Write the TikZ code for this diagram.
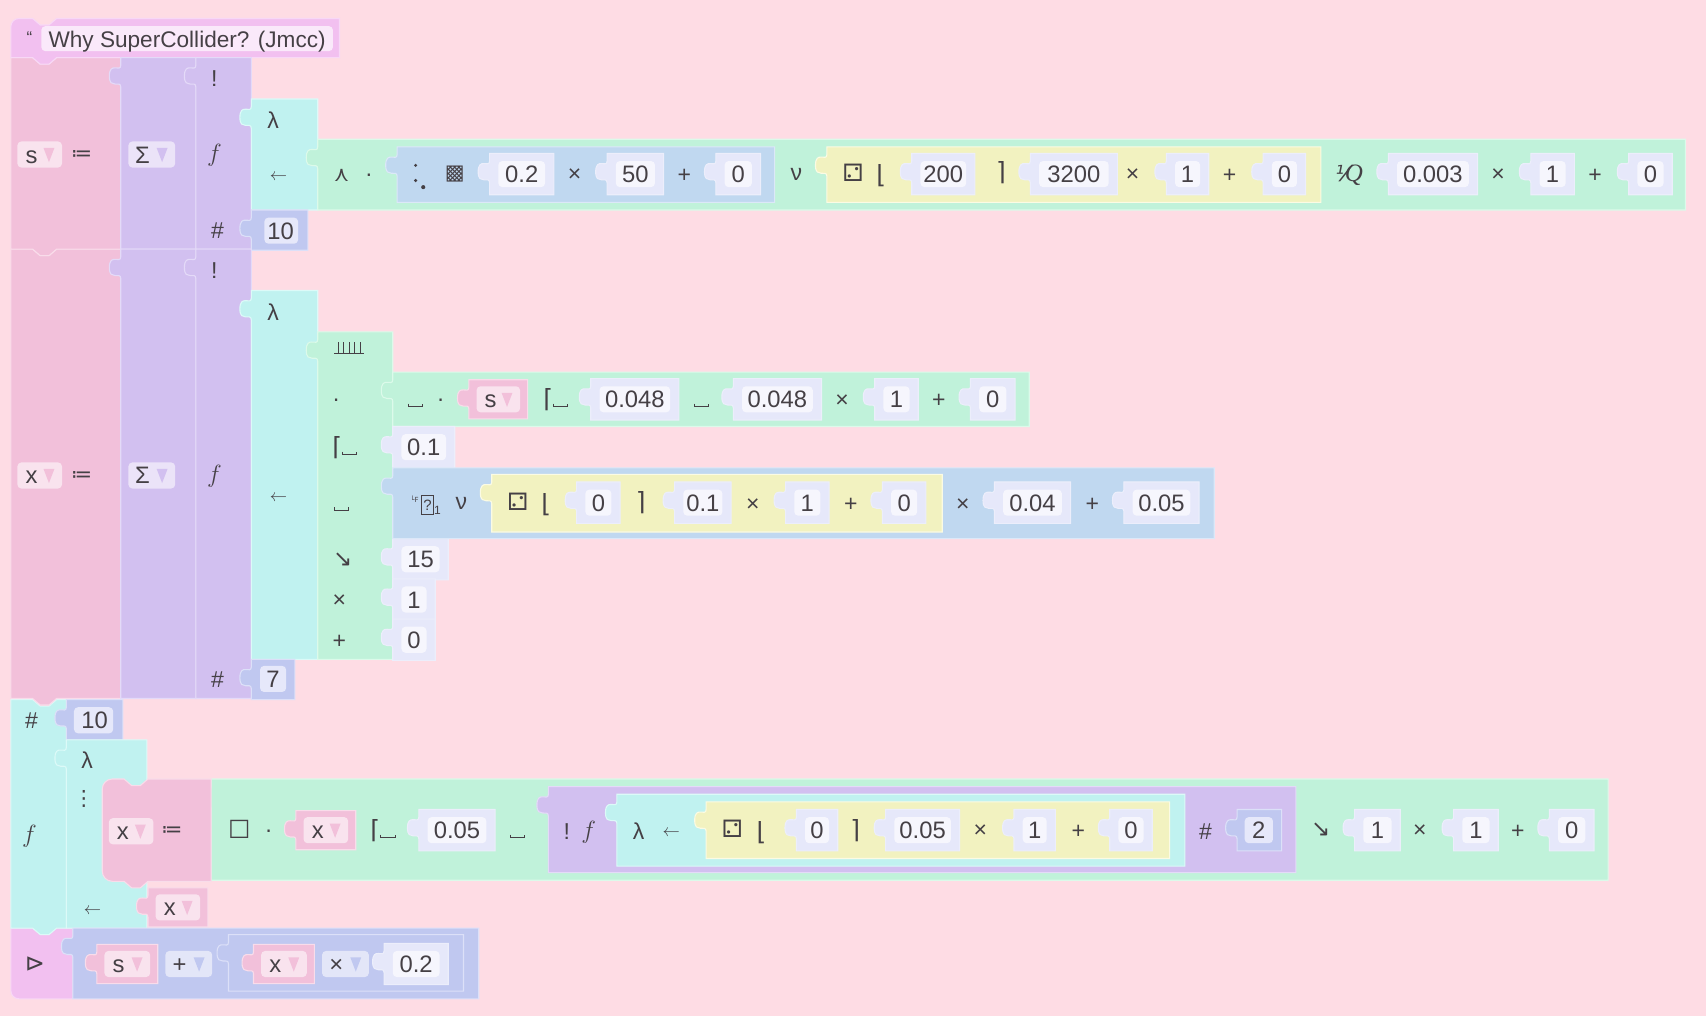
\documentclass[tikz,border=0pt]{standalone}
\usepackage{fontspec}
\setmainfont{Liberation Sans}
\newfontfamily\symfont{DejaVu Sans}
\newfontfamily\serifsym{Liberation Serif}
\usetikzlibrary{positioning}

\definecolor{bgpink}{HTML}{FEDCE4}
\definecolor{inkgray}{HTML}{454045}
\definecolor{hatfill}{HTML}{F2C0F0}
\definecolor{hatline}{HTML}{F8D8F6}
\definecolor{pinkfill}{HTML}{F2C0DA}
\definecolor{pinkline}{HTML}{F9DCEA}
\definecolor{purpfill}{HTML}{D2C0F0}
\definecolor{purpline}{HTML}{E4DAF8}
\definecolor{cyanfill}{HTML}{C0F2F0}
\definecolor{cyanline}{HTML}{DCFAF8}
\definecolor{greenfill}{HTML}{C0F2DA}
\definecolor{greenline}{HTML}{DCFAEA}
\definecolor{bluefill}{HTML}{C0D8F0}
\definecolor{blueline}{HTML}{DCE8F8}
\definecolor{yellfill}{HTML}{F2F2C0}
\definecolor{yellline}{HTML}{FBFBE4}
\definecolor{perifill}{HTML}{C0C8F0}
\definecolor{periline}{HTML}{DCE0F8}
\definecolor{valfill}{HTML}{E6E8FA}
\definecolor{valline}{HTML}{ECEEFB}
\definecolor{fieldfill}{HTML}{F6F6FD}

\tikzset{
  hatblock/.style={fill=hatfill,draw=hatline,line width=1.1pt},
  pinkblock/.style={fill=pinkfill,draw=pinkline,line width=1.1pt},
  purpblock/.style={fill=purpfill,draw=purpline,line width=1.1pt},
  cyanblock/.style={fill=cyanfill,draw=cyanline,line width=1.1pt},
  greenblock/.style={fill=greenfill,draw=greenline,line width=1.1pt},
  blueblock/.style={fill=bluefill,draw=blueline,line width=1.1pt},
  yellblock/.style={fill=yellfill,draw=yellline,line width=1.1pt},
  periblock/.style={fill=perifill,draw=periline,line width=1.1pt},
  valblockstyle/.style={fill=valfill,draw=valline,line width=1.1pt},
  titletext/.style={font=\fontsize{22.6}{24}\selectfont,text=inkgray,inner sep=0pt,text height=16pt,text depth=0pt},
  valtext/.style={font=\fontsize{23.8}{25}\selectfont,text=inkgray,inner sep=0pt,text height=17pt,text depth=0pt},
  symtext/.style={font=\fontsize{23}{24}\selectfont,text=inkgray,inner sep=0pt},
  optext/.style={symtext,yshift=-1.3pt},
  dottext/.style={symtext,yshift=-3.8pt},
  arrowtext/.style={font=\fontsize{17}{24}\selectfont,text=inkgray,inner sep=0pt},
  funtext/.style={font=\fontsize{27}{28}\selectfont,text=inkgray,inner sep=0pt},
  djtext/.style={font=\fontsize{21}{24}\selectfont\symfont,text=inkgray,inner sep=0pt},
  tallsym/.style={font=\fontsize{25}{26}\selectfont\symfont,text=inkgray,inner sep=0pt}
}

% block with a puzzle tab on its left edge
\newcommand{\tabblock}[5][]{%
  \draw[#1] (#2,#3) -- (#2,#3+7)
    .. controls (#2,#3+14) and (#2-10.5,#3+3) .. (#2-10.5,#3+17)
    .. controls (#2-10.5,#3+30) and (#2,#3+20) .. (#2,#3+27)
    -- (#2,#5) -- (#4,#5) -- (#4,#3) -- cycle;}
% stacked block with a notch on top and a bump below
\newcommand{\stmtblock}[7][]{%
  \draw[#1] (#2,#3+20) [rounded corners=#6] -- (#2,#3) [sharp corners] -- (#2+20,#3)
    -- (#2+27,#3+6) -- (#2+35,#3+6) -- (#2+42,#3) -- (#4,#3) -- (#4,#5)
    -- (#2+42,#5) -- (#2+35,#5+6) -- (#2+27,#5+6) -- (#2+20,#5)
    [rounded corners=#7] -- (#2,#5) [sharp corners] -- cycle;}
% number block
\newcommand{\valblock}[4]{%
  \tabblock[valblockstyle]{#1}{#3-19}{#2}{#3+19}
  \fill[fieldfill,rounded corners=4] (#1+8,#3-12) rectangle (#2-8,#3+12);
  \node[valtext] (val#1x#3) at ({(#1+#2)/2},#3) {#4};}
% dropdown field
\newcommand{\dropfield}[6]{%
  \fill[#5,rounded corners=4] (#1,#3-12) rectangle (#2,#3+12);
  \node[valtext] (drop#1x#3) at (#1+13,#3) {#4};
  \fill[#6] (#2-17,#3-6) -- (#2-7,#3-6) -- (#2-12,#3+7) -- cycle;}
% variable block
\newcommand{\varblock}[4]{%
  \tabblock[pinkblock]{#1}{#3-18}{#2}{#3+18}
  \dropfield{#1+7}{#2-7}{#3}{#4}{pinkfill!45!white}{pinkfill}}
% open box under a letter
\newcommand{\blank}[2]{%
  \draw[inkgray,line width=0.9pt] (#1-6,#2-3) -- (#1-6,#2) -- (#1+7,#2) -- (#1+7,#2-3);}
\newcommand{\lceilblank}[2]{%
  \node[tallsym] (ceil#1x#2) at (#1-7,#2) {⌈};
  \blank{#1+4}{#2+7}}

\begin{document}
\begin{tikzpicture}[x=1.08801pt,y=-1.08801pt]
  \useasboundingbox[fill=bgpink] (0,0) rectangle (1568,934);

  % stacked column, bottom first
  \draw[hatblock] (10,875) -- (10,853) -- (30,853) -- (37,859) -- (45,859) -- (52,853) -- (67,853)
    -- (67,918) [rounded corners=8] -- (10,918) [sharp corners] -- cycle;
  \stmtblock[cyanblock]{10}{643}{61}{853}{0}{0}
  \stmtblock[pinkblock]{10}{229}{111}{642}{0}{0}
  \stmtblock[pinkblock]{10}{53}{111}{229}{0}{0}
  \stmtblock[hatblock]{10}{17}{312}{53}{8}{0}
  \fill[hatfill!35!white,rounded corners=4] (38,24) rectangle (306,47);
  \node[titletext] (title) at (172,36) {Why SuperCollider? (Jmcc)};
  \node[titletext,font=\fontsize{17}{18}\selectfont] (quote) at (27,33) {“};

  % s assignment
  \dropfield{16}{57}{142}{s}{pinkfill!45!white}{pinkfill}
  \node[djtext] (setS) at (75,143) {≔};
  \tabblock[purpblock]{111}{53}{180}{229}
  \dropfield{118}{161}{142}{Σ}{purpfill!45!white}{purpfill}
  \tabblock[purpblock]{180}{53}{231}{229}
  \node[symtext] (bangS) at (197,72) {!};
  \node[funtext] (funS) at (197,143) {$f$};
  \node[symtext] (numS) at (200,212) {\#};

  \tabblock[cyanblock]{231}{91}{292}{193}
  \node[symtext] (lamS) at (251,110) {λ};
  \node[arrowtext] (arrS) at (256,163) {$\leftarrow$};
  \tabblock[greenblock]{292}{128}{1549}{193}
  \node[djtext] (andS) at (314,161) {⋏};
  \node[dottext] (dotS) at (339,160) {·};
  \tabblock[blueblock]{365}{135}{712}{186}
  \fill[inkgray] (382,152) circle (1.6) (382,166) circle (1.6) (389,172) circle (1.9);
  \node[djtext] (noiseS) at (418,160) {▩};
  \foreach \xa/\xb/\txt in {450/509/0.2,558/610/50,658/699/0}{
    \valblock{\xa}{\xb}{160}{\txt}
  }
  \node[optext] (mulA) at (528,160) {×};
  \node[optext] (addA) at (629,160) {+};
  \node[symtext] (nuS) at (732,160) {ν};
  \tabblock[yellblock]{760}{135}{1214}{186}
  \node[djtext,font=\fontsize{24}{24}\selectfont\symfont] (dieS) at (784,159) {⚁};
  \node[tallsym] (floorS) at (810,161) {⌊};
  \node[tallsym] (ceilS) at (920,159) {⌉};
  \foreach \xa/\xb/\txt in {838/896/200,947/1027/3200,1072/1111/1,1161/1200/0,1276/1358/0.003,1407/1447/1,1497/1537/0}{
    \valblock{\xa}{\xb}{160}{\txt}
  }
  \foreach \x/\sym in {1041/×,1130/+,1377/×,1466/+}{
    \node[optext] (opS\x) at (\x,160) {\sym};
  }
  \node[symtext] (recipS) at (1240,161) {{\fontsize{22}{23}\selectfont\symfont\itshape ⅟}\kern-3pt{\fontsize{25}{26}\selectfont\serifsym\itshape Q}};
  \tabblock[periblock]{231}{193}{283}{230}
  \fill[valfill,rounded corners=4] (243,200) rectangle (274,224);
  \node[valtext] (tenS) at (258,212) {10};

  % x assignment
  \dropfield{16}{57}{437}{x}{pinkfill!45!white}{pinkfill}
  \node[djtext] (setX) at (75,438) {≔};
  \tabblock[purpblock]{111}{229}{180}{642}
  \dropfield{118}{161}{437}{Σ}{purpfill!45!white}{purpfill}
  \tabblock[purpblock]{180}{229}{231}{642}
  \node[symtext] (bangX) at (197,249) {!};
  \node[funtext] (funX) at (197,438) {$f$};
  \node[symtext] (numX) at (200,625) {\#};
  \tabblock[cyanblock]{231}{267}{292}{606}
  \node[symtext] (lamX) at (251,287) {λ};
  \node[arrowtext] (arrX) at (256,458) {$\leftarrow$};
  \tabblock[greenblock]{292}{305}{361}{606}
  % comb
  \draw[inkgray,line width=1.1pt] (307,325) -- (335,325) foreach \t in {311,316,321,326,331}{(\t,325) -- (\t,314)};
  \node[dottext] (dotX) at (309,367) {·};
  \lceilblank{317}{411}
  \blank{313}{469}
  \node[djtext,font=\fontsize{23}{24}\selectfont\symfont] (dirX) at (315,514) {↘};
  \node[optext] (mulX) at (312,551) {×};
  \node[optext] (addX) at (312,589) {+};

  \tabblock[greenblock]{361}{342}{946}{392}
  \blank{381}{374}
  \node[dottext] (dotC) at (405,367) {·};
  \varblock{431}{485}{367}{s}
  \lceilblank{511}{367}
  \blank{644}{374}
  \foreach \xa/\xb/\txt in {543/624/0.048,674/755/0.048,804/844/1,892/933/0}{
    \valblock{\xa}{\xb}{367}{\txt}
  }
  \node[optext] (mulC) at (774,367) {×};
  \node[optext] (addC) at (863,367) {+};

  \foreach \xa/\xb/\yc/\txt in {361/418/411/0.1,361/412/514/15,361/400/551/1,361/400/588/0}{
    \valblock{\xa}{\xb}{\yc}{\txt}
  }
  \tabblock[blueblock]{361}{430}{1116}{495}
  \node[djtext,font=\fontsize{7}{8}\selectfont\symfont] (lfX) at (381,459) {└F};
  \node[symtext,font=\fontsize{15}{16}\selectfont,draw=inkgray,line width=0.7pt,minimum width=12pt,minimum height=19pt] (boxX) at (393,464) {?};
  \node[symtext,font=\fontsize{12}{14}\selectfont] (oneX) at (402,469) {1};
  \node[symtext] (nuX) at (424,463) {ν};
  \tabblock[yellblock]{452}{436}{866}{489}
  \node[djtext,font=\fontsize{24}{24}\selectfont\symfont] (dieX) at (476,461) {⚁};
  \node[tallsym] (floorX) at (502,464) {⌊};
  \node[tallsym] (ceilX) at (589,462) {⌉};
  \foreach \xa/\xb/\txt in {530/570/0,620/672/0.1,722/762/1,811/851/0,914/984/0.04,1033/1102/0.05}{
    \valblock{\xa}{\xb}{462}{\txt}
  }
  \foreach \x/\sym in {692/×,782/+,885/×,1004/+}{
    \node[optext] (opX\x) at (\x,463) {\sym};
  }
  \tabblock[periblock]{231}{606}{271}{643}
  \fill[valfill,rounded corners=4] (239,612) rectangle (263,636);
  \node[valtext] (sevenX) at (251,624) {7};

  % overlap part
  \node[symtext] (numC) at (29,662) {\#};
  \node[funtext] (funC) at (27,769) {$f$};
  \tabblock[periblock]{61}{643}{113}{680}
  \fill[valfill,rounded corners=4] (68,650) rectangle (104,674);
  \node[valtext] (tenC) at (87,662) {10};
  \tabblock[cyanblock]{61}{680}{135}{853}
  \node[symtext] (lamC) at (80,699) {λ};
  \node[djtext] (seqC) at (77,734) {⋮};
  \node[arrowtext] (arrC) at (85,838) {$\leftarrow$};
  \varblock{136}{191}{834}{x}

  \tabblock[greenblock]{194}{716}{1478}{809}
  \stmtblock[pinkblock]{94}{716}{194}{810}{10}{10}
  \dropfield{100}{141}{764}{x}{pinkfill!45!white}{pinkfill}
  \node[djtext] (setC) at (158,764) {≔};
  \node[djtext,font=\fontsize{25}{26}\selectfont\symfont] (boxC) at (220,762) {☐};
  \node[dottext] (dotD) at (247,763) {·};
  \varblock{272}{327}{763}{x}
  \lceilblank{352}{763}
  \valblock{385}{455}{763}{0.05}
  \blank{475}{770}
  \tabblock[purpblock]{504}{723}{1191}{802}
  \node[symtext] (bangC) at (521,764) {!};
  \node[funtext] (funD) at (541,765) {$f$};
  \tabblock[cyanblock]{567}{730}{1089}{796}
  \node[symtext] (lamD) at (587,764) {λ};
  \node[arrowtext] (arrD) at (617,766) {$\leftarrow$};
  \tabblock[yellblock]{649}{737}{1075}{789}
  \node[djtext,font=\fontsize{24}{24}\selectfont\symfont] (dieD) at (673,762) {⚁};
  \node[tallsym] (floorD) at (700,765) {⌊};
  \node[tallsym] (ceilD) at (786,763) {⌉};
  \foreach \xa/\xb/\txt in {732/770/0,814/882/0.05,932/970/1,1020/1059/0,1245/1287/1,1336/1377/1,1424/1465/0}{
    \valblock{\xa}{\xb}{763}{\txt}
  }
  \foreach \x/\sym in {901/×,991/+,1305/×,1395/+}{
    \node[optext] (opD\x) at (\x,763) {\sym};
  }
  \node[symtext] (numD) at (1108,764) {\#};
  \tabblock[periblock]{1137}{744}{1178}{782}
  \fill[valfill,rounded corners=4] (1144,751) rectangle (1170,775);
  \node[valtext] (twoD) at (1157,763) {2};
  \node[djtext,font=\fontsize{23}{24}\selectfont\symfont] (dirD) at (1214,763) {↘};

  % output
  \node[djtext,font=\fontsize{24}{24}\selectfont\symfont] (outE) at (32,886) {⊳};
  \tabblock[periblock]{67}{853}{440}{918}
  \varblock{89}{145}{886}{s}
  \dropfield{152}{195}{886}{+}{perifill!45!white}{perifill}
  \tabblock[periblock]{210}{859}{426}{911}
  \varblock{233}{289}{886}{x}
  \dropfield{296}{339}{886}{×}{perifill!45!white}{perifill}
  \valblock{353}{412}{886}{0.2}
\end{tikzpicture}
\end{document}
